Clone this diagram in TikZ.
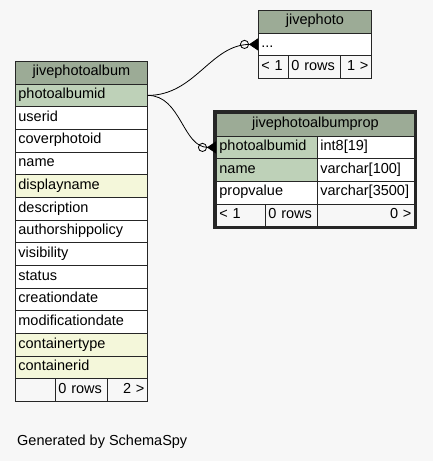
\documentclass[tikz,border=0pt]{standalone}
\usepackage{fontspec}
\setmainfont{Liberation Sans}
\usetikzlibrary{arrows.meta}

\definecolor{bgcol}{HTML}{F7F7F7}
\definecolor{headcol}{HTML}{9CAB96}
\definecolor{keycol}{HTML}{BED1B8}
\definecolor{idxcol}{HTML}{F4F7DA}

\begin{document}
\begin{tikzpicture}[x=1pt,y=-1pt,
  cell/.style={draw=black!85, line width=0.8pt, anchor=north west,
    inner xsep=3pt, inner ysep=0pt, text height=10pt, text depth=3.5pt,
    minimum height=22.67pt, font=\fontsize{14.5}{16}\selectfont},
  head/.style={cell, fill=headcol, align=center},
  foot/.style={cell, fill=bgcol},
  rel/.style={line width=0.8pt,
    -{Circle[open,length=9pt,line width=0.8pt] Triangle[reversed,length=9pt,width=12pt]}}]

% Canvas
\fill[bgcol] (0,0) rectangle (433,461);
\useasboundingbox (0,0) rectangle (433,461);

% Parameters
\def\rowh{22.67}                 % row height
\def\albx{15}   \def\alby{61}    % jivephotoalbum
\def\photox{258} \def\photoy{10} % jivephoto
\def\propx{216} \def\propy{113}  % jivephotoalbumprop

% jivephotoalbum
\node[head, text width=126pt] (album) at (\albx,\alby) {jivephotoalbum};
\foreach \col/\bg [count=\i] in {photoalbumid/keycol, userid/white,
    coverphotoid/white, name/white, displayname/idxcol, description/white,
    authorshippolicy/white, visibility/white, status/white,
    creationdate/white, modificationdate/white, containertype/idxcol,
    containerid/idxcol} {
  \node[cell, fill=\bg, text width=126pt, align=left] (album-\i)
    at (\albx,\alby+\i*\rowh) {\col};
}
\node[foot, text width=34pt] (album-prev) at (\albx,\alby+14*\rowh) {};
\node[foot, text width=46pt, align=left] (album-rows) at (\albx+40,\alby+14*\rowh) {0 rows};
\node[foot, text width=34pt, align=right] (album-next) at (\albx+92,\alby+14*\rowh) {2 >};

% jivephoto
\node[head, text width=107pt] (photo) at (\photox,\photoy) {jivephoto};
\node[cell, fill=white, text width=107pt, align=left] (photo-1) at (\photox,\photoy+\rowh) {...};
\node[foot, text width=24pt, align=left] (photo-prev) at (\photox,\photoy+2*\rowh) {< 1};
\node[foot, text width=46pt, align=left] (photo-rows) at (\photox+30,\photoy+2*\rowh) {0 rows};
\node[foot, text width=25pt, align=right] (photo-next) at (\photox+82,\photoy+2*\rowh) {1 >};

% jivephotoalbumprop
\node[head, text width=192pt] (prop) at (\propx,\propy) {jivephotoalbumprop};
\foreach \col/\typ/\bg [count=\i] in {photoalbumid/int8[19]/keycol,
    name/varchar[100]/keycol, propvalue/varchar[3500]/white} {
  \node[cell, fill=\bg, text width=95pt, align=left] (prop-\i)
    at (\propx,\propy+\i*\rowh) {\col};
  \node[cell, fill=white, text width=91pt, align=left] (prop-\i-type)
    at (\propx+101,\propy+\i*\rowh) {\typ};
}
\node[foot, text width=43pt, align=left] (prop-prev) at (\propx,\propy+4*\rowh) {< 1};
\node[foot, text width=46pt, align=left] (prop-rows) at (\propx+49,\propy+4*\rowh) {0 rows};
\node[foot, text width=91pt, align=right] (prop-next) at (\propx+101,\propy+4*\rowh) {0 >};
\draw[line width=3pt, black!85] (214.5,111.5) rectangle (415.5,227.5);

% Relations
\draw[rel] (album-1.east) to[out=0,in=180] (photo-1.west);
\draw[rel] (album-1.east) to[out=0,in=180] (prop-1.west);

% Footer
\node[anchor=base west, inner sep=0pt, font=\fontsize{14.5}{16}\selectfont]
  (credit) at (17,445) {Generated by SchemaSpy};

\end{tikzpicture}
\end{document}
